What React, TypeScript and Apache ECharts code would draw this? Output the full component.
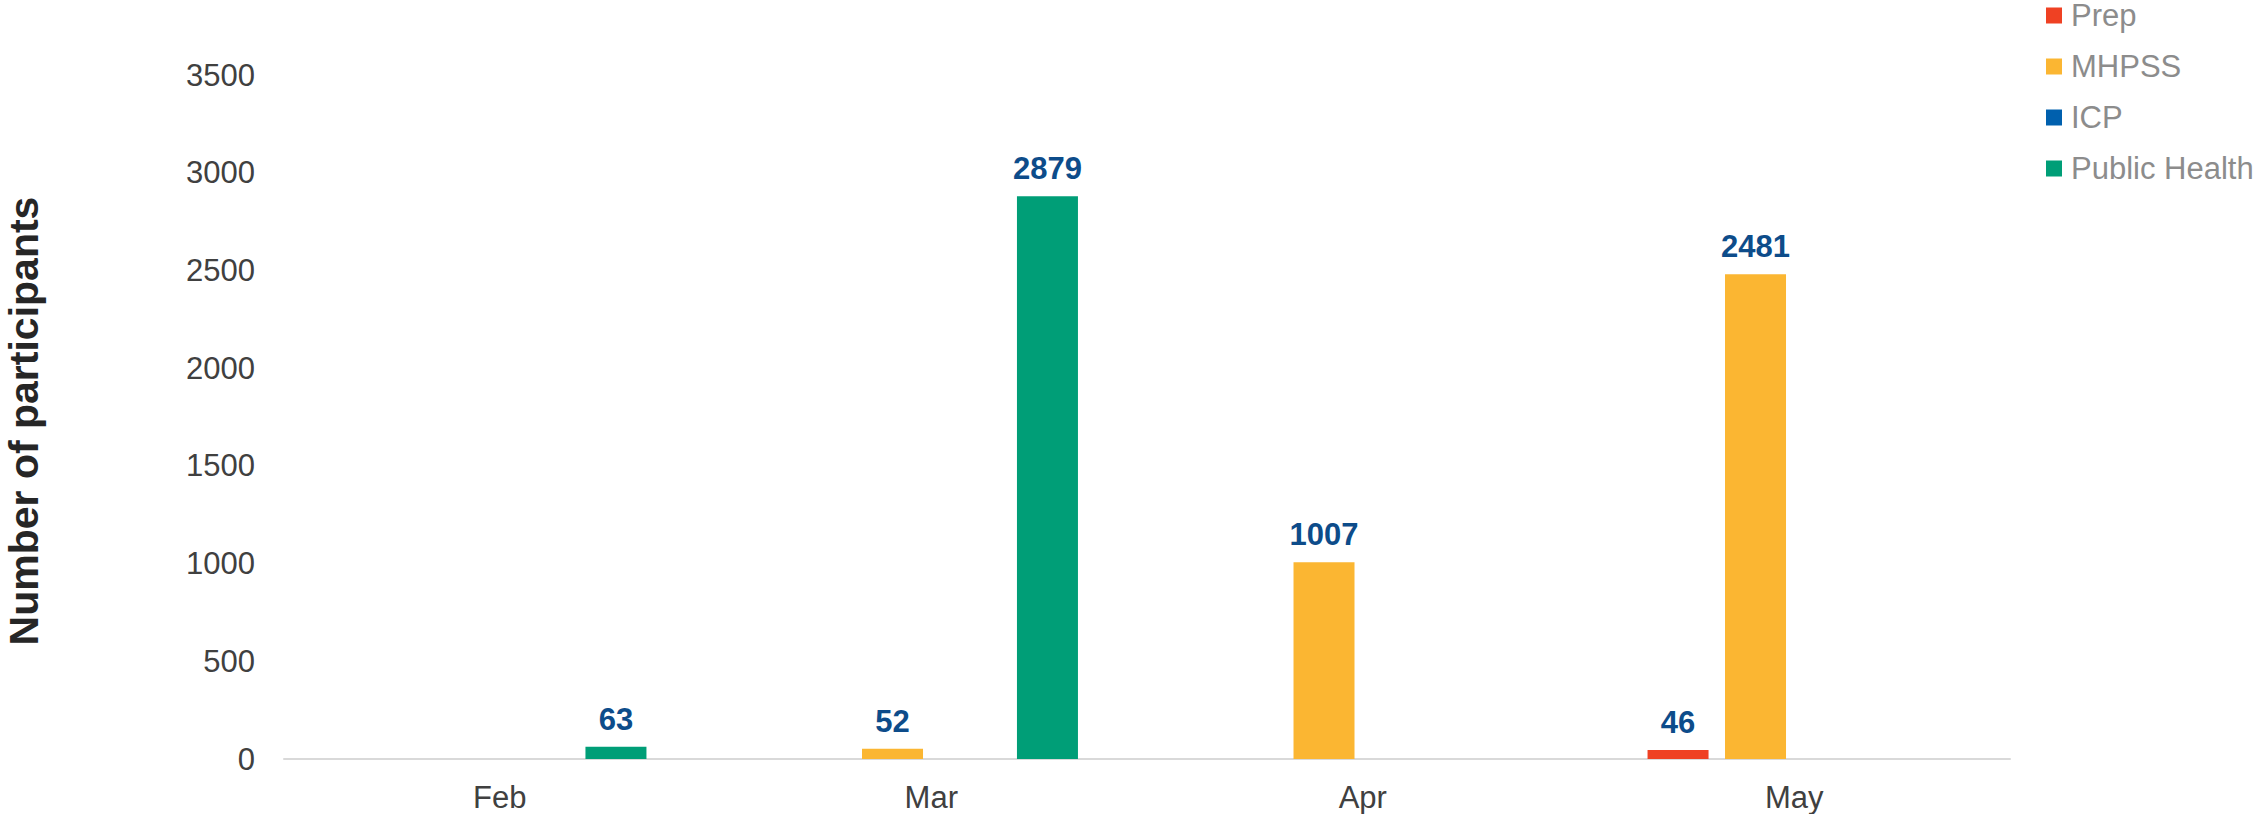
import React, { useEffect, useRef } from "react";
import * as echarts from "echarts";

const categories = ["Feb", "Mar", "Apr", "May"];
const seriesNames = ["Prep", "MHPSS", "ICP", "Public Health"];
const prepValues = [null, null, null, 46];
const mhpssValues = [null, 52, 1007, 2481];
const icpValues = [null, null, null, null];
const publicHealthValues = [63, 2879, null, null];
const seriesColors = ["#EF4123", "#FBB632", "#0060AE", "#009E77"];
const yTicks = { min: 0, max: 3500, interval: 500 };
const yAxisTitle = "Number of participants";

const FONT = "'Liberation Sans', Arial, sans-serif";

export default function App() {
  const ref = useRef<HTMLDivElement>(null);
  useEffect(() => {
    if (!ref.current) return;
    const chart = echarts.init(ref.current, undefined, { renderer: "svg" });
    const allValues = [prepValues, mhpssValues, icpValues, publicHealthValues];
    chart.setOption({
      animation: false,
      backgroundColor: "#ffffff",
      textStyle: { fontFamily: FONT },
      grid: { left: 284, right: 250, top: 75, bottom: 55, containLabel: false },
      legend: {
        orient: "vertical",
        left: 2046,
        top: 0,
        padding: 0,
        itemWidth: 16,
        itemHeight: 16,
        itemGap: 20,
        icon: "rect",
        data: seriesNames,
        textStyle: { color: "#8C8C8C", fontSize: 31, lineHeight: 31, fontFamily: FONT, padding: [0, 0, 0, 4] },
      },
      xAxis: {
        type: "category",
        data: categories,
        axisLine: { show: true, lineStyle: { color: "#D9D9D9", width: 2 } },
        axisTick: { show: false },
        axisLabel: { color: "#404040", fontSize: 31, margin: 23, fontFamily: FONT },
      },
      yAxis: {
        type: "value",
        min: yTicks.min,
        max: yTicks.max,
        interval: yTicks.interval,
        axisLine: { show: false },
        axisTick: { show: false },
        splitLine: { show: false },
        axisLabel: {
          color: "#404040",
          fontSize: 31,
          margin: 29,
          fontFamily: FONT,
          formatter: (v: number) => String(v),
        },
      },
      graphic: [
        {
          type: "text",
          x: 24,
          y: 421,
          rotation: Math.PI / 2,
          style: {
            text: yAxisTitle,
            fill: "#262626",
            font: `bold 41px ${FONT}`,
            textAlign: "center",
            textVerticalAlign: "middle",
          },
        },
      ],
      series: seriesNames.map((name, i) => ({
        name,
        type: "bar",
        data: allValues[i],
        barWidth: 61,
        barGap: "27%",
        itemStyle: { color: seriesColors[i] },
        label: {
          show: true,
          position: "top",
          distance: 12,
          color: "#0D4C8A",
          fontSize: 31,
          fontWeight: "bold",
          fontFamily: FONT,
        },
      })),
    });
    return () => chart.dispose();
  }, []);
  return (
    <div
      ref={ref}
      style={{ position: "fixed", left: 0, top: 0, width: 2260, height: 814 }}
    />
  );
}
